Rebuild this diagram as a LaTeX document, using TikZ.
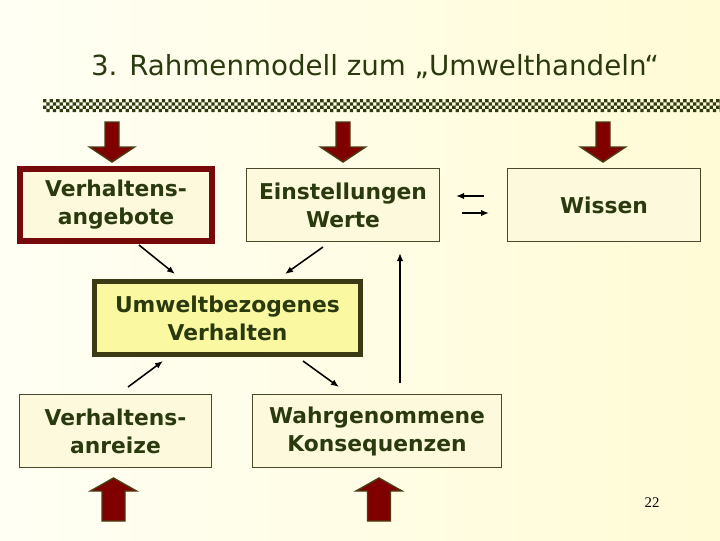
\documentclass[tikz,border=0pt]{standalone}
\usepackage{fontspec}
\setmainfont{DejaVu Sans}
\newfontfamily\pagefont{Liberation Serif}
\usetikzlibrary{arrows.meta}
\definecolor{bgleft}{HTML}{FFFFF4}
\definecolor{bgright}{HTML}{FFFBD6}
\definecolor{boxfill}{HTML}{FCF9DC}
\definecolor{boxline}{HTML}{4A4A2A}
\definecolor{umweltfill}{HTML}{FAF8A0}
\definecolor{umweltline}{HTML}{3C3A14}
\definecolor{angebred}{HTML}{760A0A}
\definecolor{txtgreen}{HTML}{2B3A0E}
\definecolor{checker}{HTML}{2F3A10}
\definecolor{arrred}{HTML}{800000}
\definecolor{arrline}{HTML}{4B3A12}

\begin{document}
\begin{tikzpicture}[x=0.025cm, y=-0.025cm, box/.style={draw=boxline, line width=0.7pt, fill=boxfill, align=center, text=txtgreen, font=\fontsize{15.5}{19.9}\selectfont\bfseries, inner sep=0pt, minimum width=4.825cm, minimum height=1.825cm}, arr/.style={-{Latex[length=2mm,width=1.6mm]}, line width=1.1pt}, blockarr/.style={fill=arrred, draw=arrline, line width=1pt, line join=miter}]
\shade[left color=bgleft, right color=bgright] (0,0) rectangle (720,540);
\useasboundingbox (0,0) rectangle (720,540);
\node[font=\fontsize{19.7}{24}\selectfont, text=txtgreen] (title) at (375,67) {3. Rahmenmodell zum „Umwelthandeln“};
% checkered bar
\foreach \c in {0,2,...,204} {
  \fill[checker] (43+\c*3.3,99) rectangle ++(3.3,3.3) (43+\c*3.3,105.6) rectangle ++(3.3,3.3)
    (46.3+\c*3.3,102.3) rectangle ++(3.3,3.3) (46.3+\c*3.3,108.9) rectangle ++(3.3,3.3);
}
% upper and lower row of boxes
\node[box, draw=angebred, line width=4.25pt, minimum width=4.8cm, minimum height=1.8cm] (angeb) at (116,205) {Verhaltens-\\angebote};
\node[box] (einst) at (343,205) {Einstellungen\\Werte};
\node[box] (wissen) at (604,205) {Wissen};
\node[box, fill=umweltfill, draw=umweltline, line width=3.5pt, minimum width=6.65cm] (umwelt) at (227.5,318) {Umweltbezogenes\\Verhalten};
\node[box, minimum width=4.8cm] (anreiz) at (115.5,431) {Verhaltens-\\anreize};
\node[box, minimum width=6.225cm] (konseq) at (377,431) {Wahrgenommene\\Konsequenzen};
\node[font=\pagefont\fontsize{10.5}{12}\selectfont] (pnum) at (652,503) {22};
% block arrows
\foreach \x in {112,343,603} \draw[blockarr] (\x,162) -- ++(-22.5,-15) -- ++(15.5,0) -- ++(0,-25) -- ++(14,0) -- ++(0,25) -- ++(15.5,0) -- cycle;
\foreach \x in {113.5,379} \draw[blockarr] (\x,478) -- ++(-23,13) -- ++(11.5,0) -- ++(0,30) -- ++(23,0) -- ++(0,-30) -- ++(11.5,0) -- cycle;
% small arrows
\coordinate (p1) at (139,245); \coordinate (q1) at (175,274);
\coordinate (p2) at (323,247); \coordinate (q2) at (285,274);
\coordinate (p3) at (128,387); \coordinate (q3) at (163,361);
\coordinate (p4) at (303,361); \coordinate (q4) at (339,387);
\coordinate (p5) at (400,383); \coordinate (q5) at (400,253);
\coordinate (p6) at (484,196); \coordinate (q6) at (456,196);
\coordinate (p7) at (462,213); \coordinate (q7) at (489,213);
\draw[arr] (p1) -- (q1); \draw[arr] (p2) -- (q2); \draw[arr] (p3) -- (q3); \draw[arr] (p4) -- (q4); \draw[arr] (p5) -- (q5); \draw[arr] (p6) -- (q6); \draw[arr] (p7) -- (q7);
\end{tikzpicture}
\end{document}
